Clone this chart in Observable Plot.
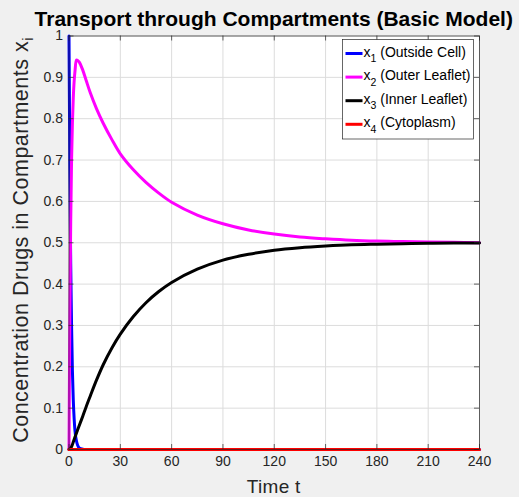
<!DOCTYPE html>
<html>
<head>
<meta charset="utf-8">
<script src="https://cdn.jsdelivr.net/npm/d3@7"></script>
<script src="https://cdn.jsdelivr.net/npm/@observablehq/plot@0.6"></script>
<style>
  html, body { margin: 0; padding: 0; background: #f0f0f0; }
  #chart { position: relative; width: 519px; height: 497px; overflow: hidden; }
</style>
</head>
<body>
<div id="chart"></div>
<script>
// Simulated time points and compartment concentrations
const time = [0, 0.5, 1, 1.5, 2, 2.5, 3, 3.5, 4.4, 5, 6, 8, 10, 12.5, 16, 20, 25, 30, 37.5, 45, 52.5, 60, 75, 90, 105, 120, 135, 150, 165, 180, 195, 210, 225, 240];
const outsideCell = [1, 0.68, 0.45, 0.30, 0.19, 0.12, 0.075, 0.045, 0.02, 0.011, 0.004, 0.001, 0, 0, 0, 0, 0, 0, 0, 0, 0, 0, 0, 0, 0, 0, 0, 0, 0, 0, 0, 0, 0, 0];
const outerLeaflet = [0, 0.32, 0.55, 0.70, 0.79, 0.85, 0.89, 0.915, 0.942, 0.941, 0.937, 0.918, 0.893, 0.862, 0.825, 0.789, 0.75, 0.715, 0.677, 0.646, 0.62, 0.598, 0.567, 0.546, 0.531, 0.521, 0.514, 0.5095, 0.506, 0.504, 0.503, 0.502, 0.501, 0.5];
const innerLeaflet = [0, 0.001, 0.003, 0.007, 0.012, 0.018, 0.024, 0.03, 0.04, 0.047, 0.058, 0.08, 0.103, 0.13, 0.167, 0.205, 0.245, 0.279, 0.321, 0.355, 0.382, 0.404, 0.436, 0.458, 0.472, 0.482, 0.488, 0.492, 0.495, 0.4965, 0.4977, 0.4985, 0.4992, 0.4996];
const cytoplasm = [0, 0, 0, 0, 0, 0, 0, 0, 0, 0, 0, 0, 0, 0, 0, 0, 0, 0, 0, 0, 0, 0, 0, 0, 0, 0, 0, 0, 0, 0, 0, 0, 0, 0];

const seriesNames = ["(Outside Cell)", "(Outer Leaflet)", "(Inner Leaflet)", "(Cytoplasm)"];
const seriesColors = ["#0000ff", "#ff00ff", "#000000", "#ff0000"];
const seriesValues = [outsideCell, outerLeaflet, innerLeaflet, cytoplasm];
const seriesCurves = ["monotone-x", "catmull-rom", "catmull-rom", "linear"];

const xTicks = [0, 30, 60, 90, 120, 150, 180, 210, 240];
const yTicks = [0, 0.1, 0.2, 0.3, 0.4, 0.5, 0.6, 0.7, 0.8, 0.9, 1];

const titleText = "Transport through Compartments (Basic Model)";
const xLabel = "Time t";
const yLabel = "Concentration Drugs in Compartments x";
const yLabelSub = "i";

const W = 519, H = 497;
const M = {top: 35.5, right: 40, bottom: 48, left: 68.5};
const innerW = W - M.left - M.right;
const innerH = H - M.top - M.bottom;
const tickLen = 5;
const axisColor = "#262626";

const lines = seriesValues.map((vals, k) =>
  Plot.line(time.map((t, i) => ({t, v: vals[i]})), {
    x: "t", y: "v", stroke: seriesColors[k], strokeWidth: 3, curve: seriesCurves[k]
  })
);

const svg = Plot.plot({
  width: W,
  height: H,
  marginTop: M.top,
  marginRight: M.right,
  marginBottom: M.bottom,
  marginLeft: M.left,
  style: {background: "transparent", fontFamily: "'Liberation Sans', Arial, Helvetica, sans-serif", fontSize: "14px", color: axisColor},
  x: {domain: [0, 240], axis: null},
  y: {domain: [0, 1], axis: null},
  marks: [
    Plot.frame({fill: "white", stroke: null}),
    Plot.gridX(xTicks, {stroke: "#dcdcdc", strokeOpacity: 1}),
    Plot.gridY(yTicks, {stroke: "#dcdcdc", strokeOpacity: 1}),
    Plot.axisX(xTicks, {anchor: "bottom", tickSize: 0, tickPadding: 7, fontSize: 14, label: null, tickFormat: d => String(d)}),
    Plot.axisY(yTicks, {anchor: "left", tickSize: 0, tickPadding: 6, fontSize: 14, label: null, tickFormat: d => String(+d.toFixed(1))}),
    ...lines,
    // inward tick marks on all four sides
    Plot.ruleX(xTicks, {x: d => d, insetTop: innerH - tickLen, stroke: axisColor, strokeWidth: 0.7}),
    Plot.ruleX(xTicks, {x: d => d, insetBottom: innerH - tickLen, stroke: axisColor, strokeWidth: 0.7}),
    Plot.ruleY(yTicks, {y: d => d, insetRight: innerW - tickLen, stroke: axisColor, strokeWidth: 0.7}),
    Plot.ruleY(yTicks, {y: d => d, insetLeft: innerW - tickLen, stroke: axisColor, strokeWidth: 0.7}),
    Plot.frame({stroke: axisColor, strokeWidth: 0.7})
  ]
});

const s = d3.select(svg);
const font = "'Liberation Sans', Arial, Helvetica, sans-serif";

// title
s.append("text")
  .attr("x", M.left + innerW / 2).attr("y", 26)
  .attr("text-anchor", "middle")
  .attr("font-family", font).attr("font-weight", "bold").attr("font-size", 21)
  .attr("fill", "#000")
  .text(titleText);

// x axis label
s.append("text")
  .attr("x", M.left + innerW / 2).attr("y", 493)
  .attr("text-anchor", "middle")
  .attr("font-family", font).attr("font-size", 19).attr("letter-spacing", 0.3)
  .attr("fill", axisColor)
  .text(xLabel);

// y axis label with subscript
const yl = s.append("text")
  .attr("transform", `translate(27.5, 240) rotate(-90)`)
  .attr("text-anchor", "middle")
  .attr("font-family", font).attr("font-size", 21.5).attr("letter-spacing", 0.5)
  .attr("fill", axisColor);
yl.append("tspan").text(yLabel);
yl.append("tspan").attr("font-size", 14).attr("dy", 5).text(yLabelSub);

// legend
const lg = s.append("g").attr("text-anchor", "start");
const lx = 342.5, ly = 39.5, lw = 131, lh = 99.5;
lg.append("rect").attr("x", lx).attr("y", ly).attr("width", lw).attr("height", lh)
  .attr("fill", "white").attr("stroke", axisColor).attr("stroke-width", 0.7);
seriesNames.forEach((name, k) => {
  const cy = 53.5 + k * 23.6;
  lg.append("line").attr("x1", lx + 3).attr("x2", lx + 20).attr("y1", cy).attr("y2", cy)
    .attr("stroke", seriesColors[k]).attr("stroke-width", 3);
  const t = lg.append("text").attr("x", lx + 21).attr("y", cy + 3)
    .attr("text-anchor", "start")
    .attr("font-family", font).attr("font-size", 14).attr("fill", "#000");
  t.append("tspan").text("x");
  t.append("tspan").attr("font-size", 10.5).attr("dy", 5.5).text(String(k + 1));
  t.append("tspan").attr("dy", -5.5).text(" " + name);
});

document.getElementById("chart").appendChild(svg);
</script>
</body>
</html>
